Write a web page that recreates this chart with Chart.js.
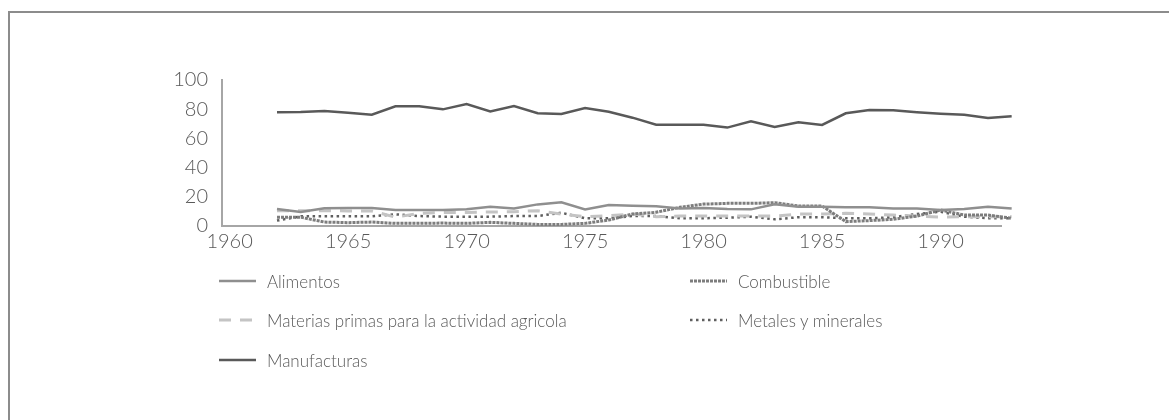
<!DOCTYPE html>
<html>
<head>
<meta charset="utf-8">
<script src="https://cdn.jsdelivr.net/npm/chart.js@4.4.1/dist/chart.umd.min.js"></script>
<style>
  html, body { margin: 0; padding: 0; background: #fff; }
  #wrap { position: relative; width: 1169px; height: 420px; overflow: hidden; font-family: Lato, "Open Sans", sans-serif; font-weight: 300; }
  #frame { position: absolute; left: 8px; top: 11px; right: -10px; bottom: -10px; border-left: 2px solid #8c8c8c; border-top: 2px solid #8c8c8c; }
  canvas { position: absolute; left: 0; top: 0; }
  .leg { position: absolute; display: flex; align-items: center; height: 20px; font-size: 17px; color: #595959; white-space: nowrap; }
  .leg svg { margin-right: 11px; }
</style>
</head>
<body>
<div id="wrap">
  <div id="frame"></div>
  <canvas id="chart" width="1169" height="420"></canvas>
  <div id="legend"></div>
</div>
<script>
const years = [1962, 1963, 1964, 1965, 1966, 1967, 1968, 1969, 1970, 1971,
               1972, 1973, 1974, 1975, 1976, 1977, 1978, 1979, 1980, 1981,
               1982, 1983, 1984, 1985, 1986, 1987, 1988, 1989, 1990, 1991,
               1992, 1993];

const alimentos = [11.6, 9.6, 12.1, 12.4, 12.4, 11.0, 11.0, 11.0, 11.4, 13.2,
                   12.0, 14.8, 16.2, 11.4, 14.4, 13.9, 13.5, 12.0, 12.4, 11.6,
                   11.4, 14.9, 13.2, 13.2, 12.8, 12.8, 12.0, 12.0, 11.0, 11.6,
                   13.2, 12.0];
const combustible = [6.0, 6.0, 2.7, 2.3, 2.7, 1.8, 1.8, 2.0, 1.8, 2.5,
                     1.8, 1.1, 1.1, 1.8, 4.1, 8.2, 9.4, 12.8, 15.0, 15.5,
                     15.5, 16.0, 13.7, 13.7, 3.0, 3.7, 4.6, 6.8, 11.0, 7.5,
                     7.5, 5.3];
const materias = [10.5, 10.5, 10.5, 10.3, 10.3, 6.0, 8.7, 9.2, 9.2, 9.6,
                  9.8, 10.5, 8.2, 6.4, 7.1, 8.2, 6.4, 6.8, 6.8, 6.8,
                  6.8, 6.8, 8.2, 8.2, 8.7, 8.2, 7.5, 6.8, 6.0, 6.4,
                  6.4, 6.4];
const metales = [3.7, 6.6, 6.6, 6.6, 6.6, 8.0, 6.8, 6.4, 6.4, 6.4,
                 6.8, 6.8, 9.1, 5.3, 5.3, 6.8, 6.8, 5.3, 5.3, 5.7,
                 6.4, 4.6, 6.0, 6.0, 5.3, 5.3, 6.0, 8.2, 9.8, 6.4,
                 5.3, 5.3];
const manufacturas = [77.9, 78.0, 78.8, 77.6, 76.2, 82.0, 82.0, 79.9, 83.6, 78.5,
                      82.2, 77.2, 76.7, 80.8, 78.3, 74.2, 69.4, 69.4, 69.4, 67.4,
                      71.7, 67.8, 71.0, 69.2, 77.2, 79.5, 79.2, 77.9, 76.9, 76.2,
                      74.0, 75.1];

const xTicks = [1960, 1965, 1970, 1975, 1980, 1985, 1990];
const yTicks = [0, 20, 40, 60, 80, 100];

const seriesNames = ["Alimentos", "Combustible", "Materias primas para la actividad agricola",
                     "Metales y minerales", "Manufacturas"];

function toPoints(values) {
    return values.map((v, i) => ({ x: years[i], y: v }));
}

const datasets = [
    { label: seriesNames[0], data: toPoints(alimentos), borderColor: "#8f8f8f", borderWidth: 2.5, borderDash: [] },
    { label: seriesNames[1], data: toPoints(combustible), borderColor: "#7d7d7d", borderWidth: 3, borderDash: [3, 1] },
    { label: seriesNames[2], data: toPoints(materias), borderColor: "#c4c4c4", borderWidth: 3, borderDash: [12, 9] },
    { label: seriesNames[3], data: toPoints(metales), borderColor: "#5f5f5f", borderWidth: 2.5, borderDash: [2.5, 3.5] },
    { label: seriesNames[4], data: toPoints(manufacturas), borderColor: "#595959", borderWidth: 2.5, borderDash: [] }
];
datasets.forEach(ds => {
    ds.pointRadius = 0;
    ds.tension = 0;
    ds.fill = false;
    ds.clip = false;
});

const tickFont = { family: "Lato, 'Open Sans', sans-serif", size: 20, weight: 300 };

const chart = new Chart(document.getElementById("chart"), {
    type: "line",
    data: { datasets: datasets },
    options: {
        responsive: false,
        animation: false,
        layout: { padding: { left: 162, top: 80, right: 168, bottom: 154 } },
        plugins: { legend: { display: false }, tooltip: { enabled: false } },
        scales: {
            x: {
                type: "linear",
                min: 1959.68,
                max: 1992.55,
                afterBuildTicks: (scale) => { scale.ticks = xTicks.map(v => ({ value: v })); },
                afterFit: (scale) => { scale.height = 40; },
                grid: { display: false, drawTicks: false },
                border: { color: "#a6a6a6", width: 2 },
                ticks: { color: "#595959", font: tickFont, padding: 4, maxRotation: 0, callback: v => String(v) }
            },
            y: {
                min: 0,
                max: 100,
                afterBuildTicks: (scale) => { scale.ticks = yTicks.map(v => ({ value: v })); },
                afterFit: (scale) => { scale.width = 60; },
                grid: { display: false, drawTicks: false },
                border: { color: "#a6a6a6", width: 2 },
                ticks: { color: "#595959", font: tickFont, padding: 14, callback: v => String(v) }
            }
        }
    }
});

// legend in two columns, like the original
const legendSpots = [[219, 271], [690, 271], [219, 310], [690, 310], [219, 350]];
const legendBox = document.getElementById("legend");
datasets.forEach((ds, i) => {
    const item = document.createElement("div");
    item.className = "leg";
    item.style.left = legendSpots[i][0] + "px";
    item.style.top = legendSpots[i][1] + "px";
    const dash = ds.borderDash.length ? ds.borderDash.join(" ") : "none";
    item.innerHTML = '<svg width="37" height="6"><line x1="0" y1="3" x2="37" y2="3" stroke="' + ds.borderColor +
        '" stroke-width="' + ds.borderWidth + '" stroke-dasharray="' + dash + '"/></svg><span>' + ds.label + '</span>';
    legendBox.appendChild(item);
});
</script>
</body>
</html>
